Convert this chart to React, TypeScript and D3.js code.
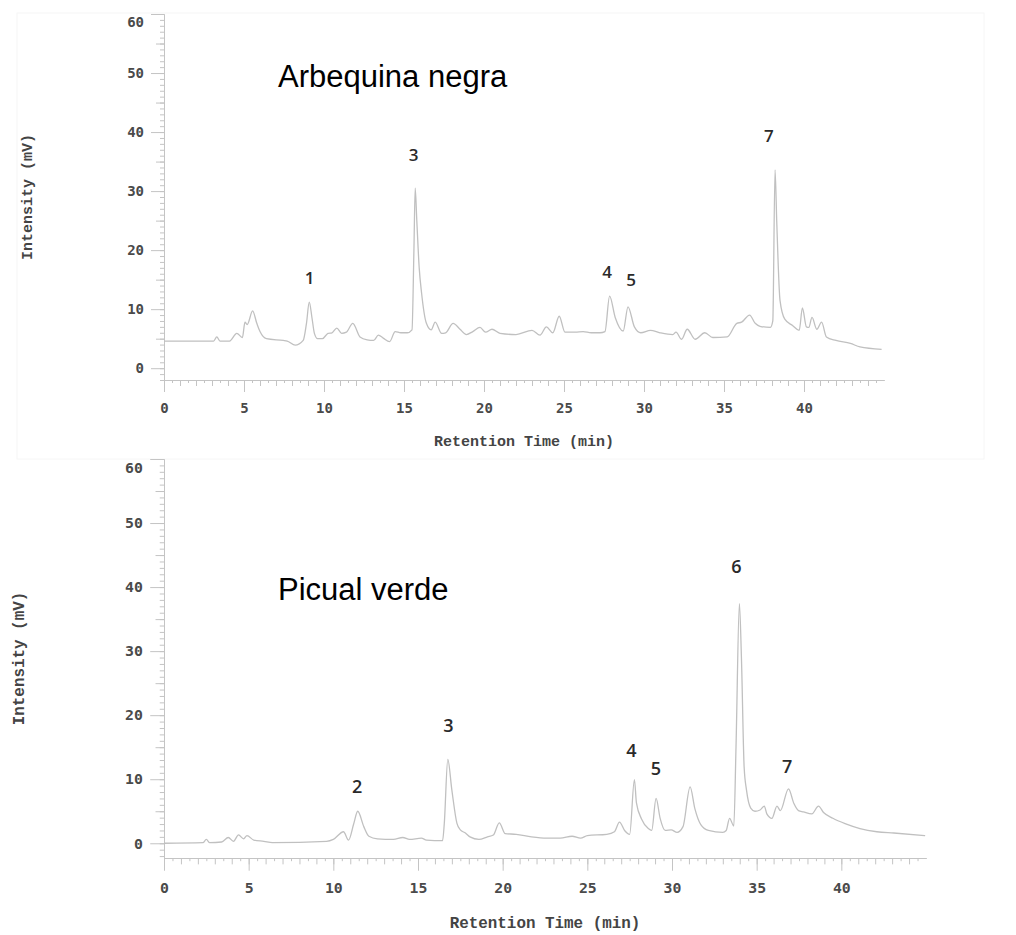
import React, { useEffect, useRef } from "react";
import * as d3 from "d3";

// retention time (min), intensity (mV)
const arbequinaTrace: [number, number][] = [
  [0, 4.6], [3.1, 4.6], [3.3, 5.3], [3.5, 4.6], [4.1, 4.6], [4.55, 5.9], [4.9, 5.2], [5.06, 7.8],
  [5.2, 7.4], [5.54, 9.7], [5.8, 7.6], [6.0, 6.2], [6.4, 5.0], [7.45, 4.7], [7.7, 4.6], [8.2, 3.9],
  [8.7, 4.7], [8.9, 7.5], [9.08, 11.2], [9.25, 8.5], [9.4, 5.9], [9.6, 5.0], [9.9, 5.0], [10.25, 5.9],
  [10.5, 6.0], [10.8, 6.8], [11.1, 5.9], [11.4, 6.1], [11.8, 7.6], [12.25, 5.3], [12.7, 4.8], [13.1, 4.7],
  [13.4, 5.6], [13.7, 5.1], [14.1, 4.5], [14.45, 6.2], [14.8, 6.0], [15.2, 6.0], [15.5, 6.5], [15.62, 20],
  [15.7, 30.5], [15.8, 25], [15.95, 17], [16.1, 12.7], [16.4, 7.6], [16.7, 6.5], [16.95, 7.8], [17.35, 5.9],
  [17.6, 6.0], [18.07, 7.6], [18.5, 6.6], [18.9, 5.7], [19.3, 6.2], [19.75, 6.9], [20.1, 6.1], [20.5, 6.6],
  [21.0, 5.9], [22.0, 5.7], [23.0, 6.4], [23.5, 5.6], [23.9, 7.0], [24.3, 6.0], [24.7, 8.8], [25.06, 6.1],
  [25.7, 6.1], [26.2, 6.2], [26.7, 6.0], [27.25, 6.0], [27.56, 6.2], [27.85, 12.2], [28.2, 8.6], [28.7, 6.3],
  [29.0, 10.4], [29.4, 7.0], [29.8, 6.0], [30.4, 6.4], [31.0, 6.0], [31.8, 5.7], [32.0, 6.1], [32.35, 4.9],
  [32.7, 6.6], [33.2, 4.9], [33.8, 6.0], [34.3, 5.2], [35.2, 5.3], [35.8, 7.6], [36.1, 7.8], [36.6, 9.0],
  [36.95, 7.6], [37.25, 7.1], [37.9, 6.9], [38.05, 8], [38.19, 33.6], [38.3, 24.5], [38.5, 11.5], [38.8, 8.3],
  [39.3, 7.2], [39.7, 6.4], [39.9, 10.2], [40.15, 7.0], [40.3, 6.9], [40.5, 8.6], [40.8, 6.6], [41.1, 7.8],
  [41.4, 5.3], [42.0, 4.7], [42.9, 4.2], [43.5, 3.6], [44.85, 3.2],
];

const picualTrace: [number, number][] = [
  [0, 0], [2.3, 0.1], [2.5, 0.6], [2.7, 0.1], [3.4, 0.2], [3.8, 0.9], [4.1, 0.3], [4.4, 1.3],
  [4.7, 0.7], [4.9, 1.2], [5.3, 0.5], [5.9, 0.3], [6.4, 0.1], [9.6, 0.3], [10.0, 0.6], [10.6, 1.8],
  [10.9, 0.5], [11.2, 3.0], [11.44, 5.0], [11.8, 2.6], [12.1, 1.1], [12.6, 0.7], [13.55, 0.6], [14.1, 0.9],
  [14.5, 0.6], [15.2, 0.8], [15.5, 0.5], [16.45, 0.4], [16.55, 3.0], [16.76, 13.1], [17.0, 8.3], [17.3, 3.1],
  [17.5, 2.1], [17.8, 1.6], [18.07, 1.0], [18.6, 0.6], [19.1, 1.0], [19.45, 1.3], [19.8, 3.2], [20.15, 1.5],
  [20.8, 1.4], [21.7, 1.0], [22.6, 0.8], [23.4, 0.8], [24.1, 1.1], [24.6, 0.8], [25.0, 1.2], [26.15, 1.4],
  [26.6, 1.8], [26.9, 3.3], [27.2, 2.0], [27.5, 1.4], [27.78, 9.95], [27.9, 6.3], [28.2, 3.8], [28.6, 2.3],
  [28.8, 2.0], [29.06, 7.0], [29.3, 3.9], [29.6, 2.0], [29.95, 2.1], [30.3, 1.7], [30.65, 2.6], [31.07, 8.8],
  [31.35, 5.4], [31.7, 2.9], [32.15, 2.0], [33.0, 1.7], [33.2, 2.0], [33.4, 3.9], [33.65, 2.7], [33.78, 15],
  [33.98, 37.4], [34.1, 29], [34.26, 11.9], [34.4, 8.3], [34.65, 5.5], [34.9, 5.0], [35.2, 5.2], [35.45, 5.8],
  [35.6, 4.6], [35.9, 3.9], [36.2, 5.8], [36.4, 5.1], [36.88, 8.5], [37.2, 6.2], [37.47, 5.1], [37.76, 4.9],
  [38.26, 4.6], [38.65, 5.8], [38.95, 4.8], [39.5, 3.9], [40.3, 3.0], [41.1, 2.3], [42.1, 1.8], [43.1, 1.6],
  [44.95, 1.2],
];

// peak numbers: [label, time, intensity where the number sits]
const arbequinaPeaks: [string, number, number][] = [
  ["1", 9.1, 15.2], ["3", 15.6, 36.1], ["4", 27.7, 16.3], ["5", 29.2, 15.0], ["7", 37.8, 39.3],
];
const picualPeaks: [string, number, number][] = [
  ["2", 11.4, 8.8], ["3", 16.8, 18.4], ["4", 27.6, 14.5], ["5", 29.05, 11.7], ["6", 33.8, 43.2], ["7", 36.8, 11.9],
];

const xMajor = [0, 5, 10, 15, 20, 25, 30, 35, 40];
const yMajor = [0, 10, 20, 30, 40, 50, 60];
const xTitle = "Retention Time (min)";
const yTitle = "Intensity (mV)";

const AXIS = "#c4c4c4";
const TRACE = "#c0c0c0";

const App = () => {
  const ref = useRef<SVGSVGElement>(null);

  useEffect(() => {
    const svg = d3.select(ref.current);
    svg.selectAll("*").remove();

    // faint border of the first pasted chromatogram
    svg.append("rect")
      .attr("x", 17).attr("y", 13).attr("width", 967).attr("height", 446)
      .style("fill", "none").style("stroke", "#f6f6f6");

    const panels = [
      { name: "Arbequina negra", trace: arbequinaTrace, peaks: arbequinaPeaks, left: 164, right: 884, top: 14, bottom: 380, yMin: -2, s: 1, titleY: 87, yTitleX: 27 },
      { name: "Picual verde", trace: picualTrace, peaks: picualPeaks, left: 164, right: 926, top: 459, bottom: 858, yMin: -2.3, s: 1.06, titleY: 600, yTitleX: 18 },
    ];

    panels.forEach(p => {
      const s = p.s;
      const x = d3.scaleLinear().domain([0, 45]).range([p.left, p.right]);
      const y = d3.scaleLinear().domain([p.yMin, 60]).range([p.bottom, p.top]);
      const g = svg.append("g");

      const style = (sel: any) => {
        sel.select(".domain").style("stroke", AXIS);
        sel.selectAll(".tick line").style("stroke", AXIS);
      };

      // x axis: half-minute, minute and 5-minute ticks
      g.append("g").attr("transform", "translate(0," + p.bottom + ")")
        .call(d3.axisBottom(x).tickValues(d3.range(0.5, 45, 1)).tickSize(3 * s).tickSizeOuter(0).tickFormat(() => ""))
        .call(style);
      g.append("g").attr("transform", "translate(0," + p.bottom + ")")
        .call(d3.axisBottom(x).tickValues(d3.range(1, 45, 1)).tickSize(6 * s).tickSizeOuter(0).tickFormat(() => ""))
        .call(style);
      const xa = g.append("g").attr("transform", "translate(0," + p.bottom + ")")
        .call(d3.axisBottom(x).tickValues(xMajor).tickSize(12 * s).tickSizeOuter(0).tickPadding(11 * s).tickFormat(d3.format("d")))
        .call(style);
      xa.selectAll("text")
        .attr("font-family", "'DejaVu Sans Mono', monospace")
        .attr("font-weight", "bold")
        .attr("font-size", 14 * s)
        .style("fill", "#4a4a4a");

      // y axis: 1, 5 and 10 mV ticks
      g.append("g").attr("transform", "translate(" + p.left + ",0)")
        .call(d3.axisLeft(y).tickValues(d3.range(-2, 61, 1)).tickSize(4 * s).tickSizeOuter(0).tickFormat(() => ""))
        .call(style);
      g.append("g").attr("transform", "translate(" + p.left + ",0)")
        .call(d3.axisLeft(y).tickValues(d3.range(5, 60, 10)).tickSize(8 * s).tickSizeOuter(0).tickFormat(() => ""))
        .call(style);
      const ya = g.append("g").attr("transform", "translate(" + p.left + ",0)")
        .call(d3.axisLeft(y).tickValues(yMajor).tickSize(13 * s).tickSizeOuter(0).tickPadding(7 * s).tickFormat(d3.format("d")))
        .call(style);
      ya.selectAll("text")
        .attr("font-family", "'DejaVu Sans Mono', monospace")
        .attr("font-weight", "bold")
        .attr("font-size", 14 * s)
        .attr("dy", (d: any) => (d === 60 ? "0.9em" : "0.32em"))
        .style("fill", "#4a4a4a");

      // axis titles
      g.append("text")
        .attr("x", (p.left + p.right) / 2)
        .attr("y", p.bottom + 66 * s)
        .attr("text-anchor", "middle")
        .attr("font-family", "'Liberation Mono', 'Courier New', monospace")
        .attr("font-weight", "bold")
        .attr("font-size", 15 * s)
        .style("fill", "#444")
        .text(xTitle);
      g.append("text")
        .attr("transform", "translate(" + p.yTitleX + "," + (p.top + p.bottom) / 2 + ") rotate(-90)")
        .attr("dy", "0.35em")
        .attr("text-anchor", "middle")
        .attr("font-family", "'Liberation Mono', 'Courier New', monospace")
        .attr("font-weight", "bold")
        .attr("font-size", 15 * s)
        .style("fill", "#444")
        .text(yTitle);

      // chromatogram trace
      const path = d3.line<[number, number]>()
        .x(d => x(d[0]))
        .y(d => y(d[1]))
        .curve(d3.curveMonotoneX);
      g.append("path")
        .datum(p.trace)
        .attr("d", path)
        .style("fill", "none")
        .style("stroke", TRACE)
        .style("stroke-width", 1.3);

      // peak numbers
      g.selectAll("text.peak")
        .data(p.peaks)
        .enter().append("text")
        .attr("class", "peak")
        .attr("x", d => x(d[1]))
        .attr("y", d => y(d[2]))
        .attr("dy", "0.35em")
        .attr("text-anchor", "middle")
        .attr("font-family", "'Open Sans', sans-serif")
        .attr("font-weight", 600)
        .attr("font-size", 17 * s)
        .style("fill", "#2a2a2a")
        .text(d => d[0]);

      // sample name
      g.append("text")
        .attr("x", 278)
        .attr("y", p.titleY)
        .attr("font-family", "'Liberation Sans', Arial, sans-serif")
        .attr("font-size", 31)
        .style("fill", "#000")
        .text(p.name);
    });
  }, []);

  return (
    <svg ref={ref} width={1016} height={935}
      style={{ position: "absolute", left: 0, top: 0, background: "#fff", display: "block" }} />
  );
};

export default App;
